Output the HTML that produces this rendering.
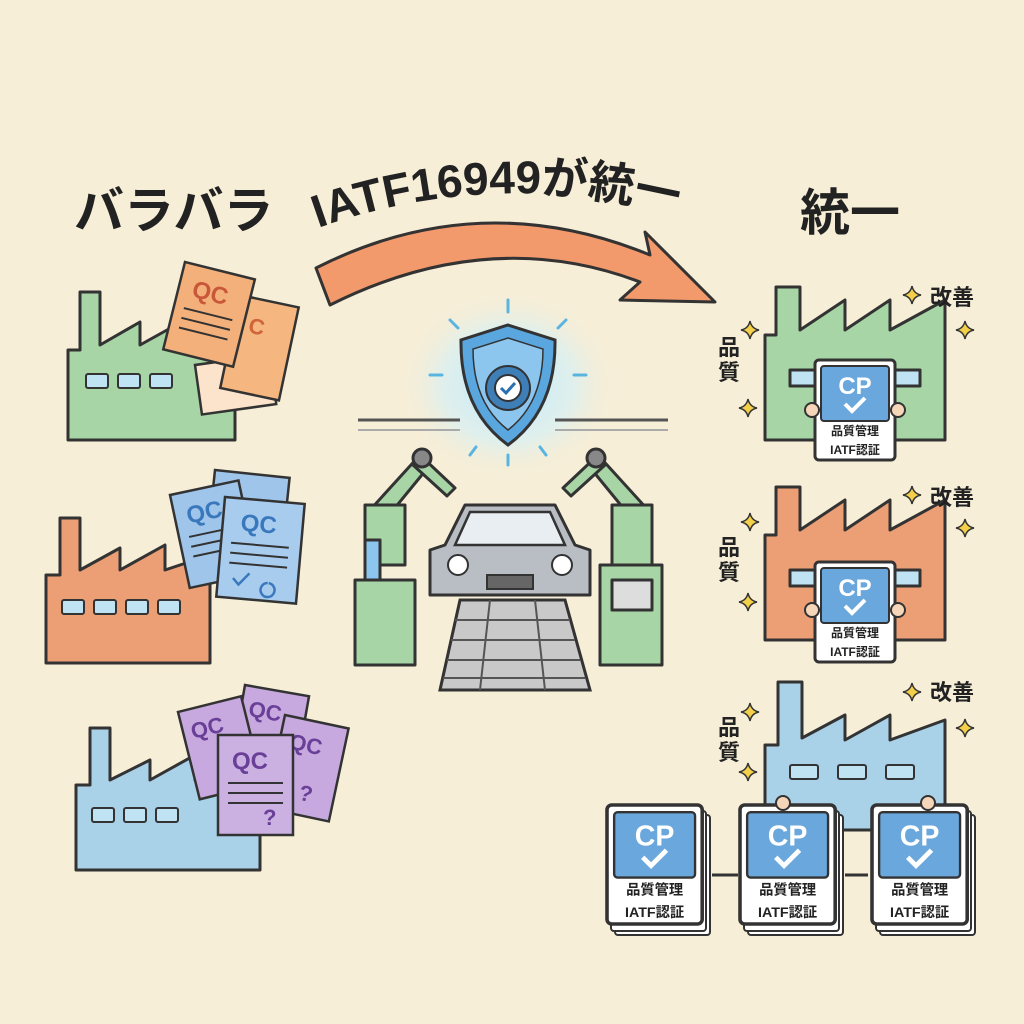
<!DOCTYPE html>
<html><head><meta charset="utf-8"><style>
html,body{margin:0;padding:0;background:#f6eed7;}
svg{display:block}
text{font-family:"Liberation Sans","Noto Sans CJK JP",sans-serif;}
</style></head><body>
<svg width="1024" height="1024" viewBox="0 0 1024 1024" xmlns="http://www.w3.org/2000/svg">
<defs>
<radialGradient id="glow" cx="50%" cy="50%" r="50%">
<stop offset="0%" stop-color="#bfe9fb" stop-opacity="1"/>
<stop offset="60%" stop-color="#d6f0f5" stop-opacity="0.7"/>
<stop offset="100%" stop-color="#f6eed7" stop-opacity="0"/>
</radialGradient>
<g id="card">
<rect x="0" y="0" width="80" height="100" rx="4" fill="#fff" stroke="#333" stroke-width="3"/>
<rect x="6" y="6" width="68" height="55" rx="3" fill="#6aa7dc" stroke="#333" stroke-width="2"/>
<text x="40" y="34" font-size="24" font-weight="bold" fill="#fff" text-anchor="middle">CP</text>
<path d="M30 44 l7 7 l13 -13" stroke="#fff" stroke-width="4" fill="none"/>
<text x="40" y="75" font-size="12" font-weight="bold" fill="#222" text-anchor="middle">品質管理</text>
<text x="40" y="94" font-size="12" font-weight="bold" fill="#222" text-anchor="middle">IATF認証</text>
</g>
<g id="star"><path d="M0 -9 Q1.5 -1.5 9 0 Q1.5 1.5 0 9 Q-1.5 1.5 -9 0 Q-1.5 -1.5 0 -9Z" fill="#f3cf4a" stroke="#333" stroke-width="1.5"/></g>
</defs>
<rect width="1024" height="1024" fill="#f6eed7"/>

<!-- titles -->
<text x="74" y="228" font-size="50" font-weight="bold" fill="#222">バラバラ</text>
<text x="800" y="230" font-size="50" font-weight="bold" fill="#222">統一</text>
<path id="arcT" d="M318 228 Q510 160 722 225" fill="none"/>
<text font-size="46" font-weight="bold" fill="#222"><textPath href="#arcT">IATF16949が統一</textPath></text>

<!-- big arrow -->
<path d="M316 268 Q480 185 650 255 L645 232 L715 302 L620 300 L640 282 Q490 225 330 305 Z" fill="#f39a6d" stroke="#333" stroke-width="3" stroke-linejoin="round"/>

<!-- left factories -->
<g stroke="#333" stroke-width="3" stroke-linejoin="round">
<path d="M68 440 L68 350 L80 350 L80 292 L100 292 L100 345 L140 322 L140 345 L185 320 L185 345 L235 330 L235 440 Z" fill="#a7d5a6"/>
<path d="M46 663 L46 575 L60 575 L60 518 L80 518 L80 570 L120 548 L120 570 L165 545 L165 570 L210 555 L210 663 Z" fill="#ec9f75"/>
<path d="M76 870 L76 785 L90 785 L90 728 L110 728 L110 780 L150 760 L150 780 L195 755 L195 780 L260 765 L260 870 Z" fill="#a9d1e8"/>
</g>
<g fill="#bfe3f3" stroke="#333" stroke-width="2">
<rect x="86" y="374" width="22" height="14" rx="2"/><rect x="118" y="374" width="22" height="14" rx="2"/><rect x="150" y="374" width="22" height="14" rx="2"/>
<rect x="62" y="600" width="22" height="14" rx="2"/><rect x="94" y="600" width="22" height="14" rx="2"/><rect x="126" y="600" width="22" height="14" rx="2"/><rect x="158" y="600" width="22" height="14" rx="2"/>
<rect x="92" y="808" width="22" height="14" rx="2"/><rect x="124" y="808" width="22" height="14" rx="2"/><rect x="156" y="808" width="22" height="14" rx="2"/>
</g>

<!-- left docs: orange -->
<g stroke="#333" stroke-width="2.5">
<g transform="translate(195,365) rotate(-8)"><rect width="75" height="50" fill="#fbe3cc"/></g>
<g transform="translate(240,295) rotate(12)"><rect width="60" height="95" fill="#f5b77f"/><text x="15" y="35" font-size="22" font-weight="bold" fill="#d0653a" stroke="none">C</text></g>
<g transform="translate(185,262) rotate(14)"><rect width="72" height="90" fill="#f4b07a"/><text x="14" y="32" font-size="24" font-weight="bold" fill="#c9573a" stroke="none">QC</text>
<path d="M10 45 H60 M10 55 H60 M10 65 H60" stroke-width="2"/></g>
<!-- blue -->
<g transform="translate(215,470) rotate(6)"><rect width="75" height="95" fill="#9fc5eb"/></g>
<g transform="translate(170,495) rotate(-12)"><rect width="70" height="95" fill="#9fc5eb"/><text x="12" y="32" font-size="24" font-weight="bold" fill="#3a78bd" stroke="none">QC</text><path d="M10 45 H58 M10 55 H58 M10 65 H58" stroke-width="2"/></g>
<g transform="translate(225,497) rotate(5)"><rect width="80" height="100" fill="#a8ccee"/><text x="18" y="32" font-size="24" font-weight="bold" fill="#3a78bd" stroke="none">QC</text><path d="M10 45 H68 M10 55 H68 M10 65 H68" stroke-width="2"/><path d="M15 80 l6 6 l10 -12 M50 82 a7 7 0 1 0 1 0" stroke="#3a78bd" fill="none"/></g>
<!-- purple -->
<g transform="translate(245,685) rotate(10)"><rect width="65" height="80" fill="#c7a9df"/><text x="8" y="30" font-size="22" font-weight="bold" fill="#6a3f98" stroke="none">QC</text></g>
<g transform="translate(178,712) rotate(-14)"><rect width="65" height="90" fill="#c7a9df"/><text x="8" y="30" font-size="22" font-weight="bold" fill="#6a3f98" stroke="none">QC</text></g>
<g transform="translate(285,715) rotate(12)"><rect width="65" height="95" fill="#c7a9df"/><text x="10" y="32" font-size="22" font-weight="bold" fill="#6a3f98" stroke="none">QC</text><text x="30" y="80" font-size="22" font-weight="bold" fill="#6a3f98" stroke="none">?</text></g>
<g transform="translate(218,735)"><rect width="75" height="100" fill="#cbb0e2"/><text x="14" y="34" font-size="24" font-weight="bold" fill="#6a3f98" stroke="none">QC</text><path d="M10 48 H65 M10 58 H65 M10 68 H65" stroke-width="2"/><text x="45" y="90" font-size="22" font-weight="bold" fill="#6a3f98" stroke="none">?</text></g>
</g>

<!-- center -->
<ellipse cx="508" cy="385" rx="110" ry="95" fill="url(#glow)"/>
<path d="M358 420 H460 M555 420 H668" stroke="#555" stroke-width="3"/>
<path d="M358 430 H460 M555 430 H668" stroke="#aaa" stroke-width="2"/>
<g stroke="#5ab4e0" stroke-width="3" stroke-linecap="round">
<path d="M508 300 v12 M450 320 l8 8 M566 320 l-8 8 M430 375 h12 M586 375 h-12 M470 455 l6 -8 M546 455 l-6 -8 M508 465 v-10"/>
</g>
<path d="M508 325 L555 340 Q556 410 508 445 Q460 410 461 340 Z" fill="#5aa7e0" stroke="#333" stroke-width="3"/>
<path d="M508 338 L543 349 Q543 403 508 430 Q473 403 473 349 Z" fill="#8cc6ee" stroke="#333" stroke-width="1.5"/>
<circle cx="508" cy="388" r="22" fill="#3f7fb8" stroke="#333" stroke-width="2"/>
<circle cx="508" cy="388" r="13" fill="#fff" stroke="#333" stroke-width="2"/>
<path d="M501 388 l5 5 l9 -10" stroke="#2b6fb0" stroke-width="3" fill="none"/>

<!-- robot arms -->
<g stroke="#333" stroke-width="3" fill="#a7d5a6" stroke-linejoin="round">
<path d="M370 510 L420 455 L430 465 L385 520 Z"/>
<path d="M420 455 L455 488 L447 496 L413 465 Z"/>
<circle cx="422" cy="458" r="9" fill="#888"/>
<path d="M648 510 L598 455 L588 465 L633 520 Z"/>
<path d="M598 455 L563 488 L571 496 L605 465 Z"/>
<circle cx="596" cy="458" r="9" fill="#888"/>
<rect x="365" y="505" width="40" height="60" fill="#a7d5a6"/>
<rect x="612" y="505" width="40" height="65" fill="#a7d5a6"/>
<rect x="355" y="580" width="60" height="85" fill="#a7d5a6"/>
<rect x="600" y="565" width="62" height="100" fill="#a7d5a6"/>
<rect x="365" y="540" width="15" height="40" fill="#8cc6ee"/>
<rect x="612" y="580" width="40" height="30" fill="#ddd"/>
</g>
<!-- conveyor -->
<path d="M460 600 L440 690 L590 690 L565 600 Z" fill="#c9c9c9" stroke="#333" stroke-width="3"/>
<g stroke="#555" stroke-width="2"><path d="M455 620 H570 M451 640 H575 M447 660 H580 M443 678 H585 M490 600 L480 690 M535 600 L545 690"/></g>
<!-- car -->
<path d="M445 545 L465 505 H555 L575 545 L590 550 V595 H430 V550 Z" fill="#b9bec4" stroke="#333" stroke-width="3" stroke-linejoin="round"/>
<path d="M470 512 H550 L565 545 H455 Z" fill="#e9eef2" stroke="#333" stroke-width="2.5"/>
<circle cx="458" cy="565" r="10" fill="#fff" stroke="#333" stroke-width="2"/>
<circle cx="562" cy="565" r="10" fill="#fff" stroke="#333" stroke-width="2"/>
<rect x="487" y="575" width="46" height="14" fill="#666" stroke="#333" stroke-width="2"/>

<!-- right factories -->
<g stroke="#333" stroke-width="3" stroke-linejoin="round">
<path d="M765 440 L765 335 L776 335 L776 287 L800 287 L800 330 L845 300 L845 330 L890 300 L890 330 L945 300 L945 440 Z" fill="#a7d5a6"/>
<path d="M765 640 L765 535 L776 535 L776 487 L800 487 L800 530 L845 500 L845 530 L890 500 L890 530 L945 500 L945 640 Z" fill="#ec9f75"/>
<path d="M765 830 L765 745 L778 745 L778 682 L802 682 L802 738 L845 715 L845 740 L890 715 L890 740 L945 720 L945 830 Z" fill="#a9d1e8"/>
<rect x="790" y="370" width="130" height="16" fill="#bfe3f3"/>
<rect x="790" y="570" width="130" height="16" fill="#bfe3f3"/>
</g>
<g fill="#bfe3f3" stroke="#333" stroke-width="2">
<rect x="790" y="765" width="28" height="14" rx="2"/><rect x="838" y="765" width="28" height="14" rx="2"/><rect x="886" y="765" width="28" height="14" rx="2"/>
</g>
<use href="#card" x="815" y="360"/>
<use href="#card" x="815" y="562"/>
<g fill="#f6d6b8" stroke="#333" stroke-width="2">
<circle cx="812" cy="410" r="7"/><circle cx="898" cy="410" r="7"/>
<circle cx="812" cy="610" r="7"/><circle cx="898" cy="610" r="7"/>
</g>
<!-- stacked cards -->
<g stroke="#333" stroke-width="2" fill="#fff">
<rect x="615" y="815" width="95" height="120" rx="3"/><rect x="611" y="811" width="95" height="120" rx="3"/>
<rect x="748" y="815" width="95" height="120" rx="3"/><rect x="744" y="811" width="95" height="120" rx="3"/>
<rect x="880" y="815" width="95" height="120" rx="3"/><rect x="876" y="811" width="95" height="120" rx="3"/>
</g>
<g transform="translate(607,805) scale(1.19,1.19)"><use href="#card"/></g>
<g transform="translate(740,805) scale(1.19,1.19)"><use href="#card"/></g>
<g transform="translate(872,805) scale(1.19,1.19)"><use href="#card"/></g>
<path d="M712 875 H738 M845 875 H868" stroke="#333" stroke-width="3"/>
<g fill="#f6d6b8" stroke="#333" stroke-width="2"><circle cx="783" cy="803" r="7"/><circle cx="928" cy="803" r="7"/></g>

<!-- labels -->
<g font-size="22" font-weight="bold" fill="#222">
<text x="930" y="305">改善</text><text x="930" y="505">改善</text><text x="930" y="700">改善</text>
<text x="718" y="355">品</text><text x="718" y="380">質</text>
<text x="718" y="555">品</text><text x="718" y="580">質</text>
<text x="718" y="735">品</text><text x="718" y="760">質</text>
</g>
<use href="#star" x="912" y="295"/><use href="#star" x="965" y="330"/><use href="#star" x="750" y="330"/><use href="#star" x="748" y="408"/>
<use href="#star" x="912" y="495"/><use href="#star" x="965" y="528"/><use href="#star" x="750" y="522"/><use href="#star" x="748" y="602"/>
<use href="#star" x="912" y="692"/><use href="#star" x="965" y="728"/><use href="#star" x="750" y="712"/><use href="#star" x="748" y="772"/>
</svg>
</body></html>
